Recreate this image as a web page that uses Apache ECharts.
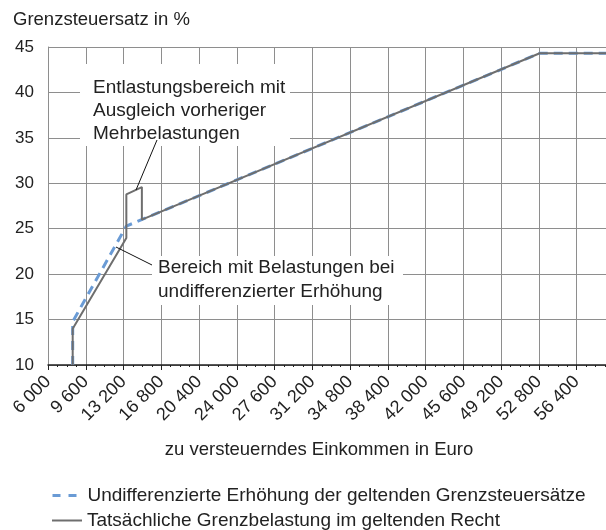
<!DOCTYPE html>
<html>
<head>
<meta charset="utf-8">
<script src="https://cdn.jsdelivr.net/npm/echarts@6/dist/echarts.min.js"></script>
<style>
  html, body { margin: 0; padding: 0; background: #fff; }
  #chart { width: 606px; height: 530px; }
</style>
</head>
<body>
<div id="chart"></div>
<script>
// Werte
var seriesNames = [
    'Undifferenzierte Erhöhung der geltenden Grenzsteuersätze',
    'Tatsächliche Grenzbelastung im geltenden Recht'
];
var incomeDashed = [8354, 8354, 13469, 52881, 59200];
var rateDashed   = [10, 14.77, 25.29, 44.31, 44.31];
var incomeSolid  = [8354, 8354, 13469, 13469, 14950, 14950, 52881, 59200];
var rateSolid    = [10, 14, 23.97, 28.77, 29.58, 26.0, 44.31, 44.31];
var xMin = 6000, xMax = 59200, xStep = 3600;
var yMin = 10, yMax = 45, yStep = 5;

var font = '"Liberation Sans", Arial, Helvetica, sans-serif';
var textColor = '#222';
var gridColor = '#8e8e8e';
var blue = '#6a9bd5';
var grey = '#6e6e6e';

function pairs(xs, ys) {
    return xs.map(function (x, i) { return [x, ys[i]]; });
}

//Tausender mit Leerzeichen
function fmtThousands(v) {
    if ((v - xMin) % xStep !== 0) return '';
    return String(v).replace(/\B(?=(\d{3})+(?!\d))/g, ' ');
}

//eine Legende je Zeile
function legendRow(item, top) {
    return {
        orient: 'vertical',
        left: 46,
        top: top,
        itemWidth: 30,
        itemHeight: 20,
        itemStyle: {opacity: 0},
        textStyle: {fontSize: 19, color: textColor, fontFamily: font},
        data: [item]
    };
}

var myChart = echarts.init(document.getElementById('chart'), null, {renderer: 'canvas'});

myChart.setOption({
    animation: false,
    textStyle: {fontFamily: font},
    grid: {left: 48, top: 47, right: 0, bottom: 165},
    legend: [
        legendRow({name: seriesNames[0], lineStyle: {type: [8, 8], width: 3, color: blue}}, 481),
        legendRow({name: seriesNames[1]}, 506)
    ],
    xAxis: {
        type: 'value',
        min: xMin,
        max: xMax,
        interval: xStep,
        axisLine: {show: true, lineStyle: {color: '#222', width: 1.5}},
        axisTick: {show: true, length: 5, lineStyle: {color: '#222'}},
        minorTick: {show: true, splitNumber: 4, length: 2, lineStyle: {color: '#222'}},
        splitLine: {show: true, lineStyle: {color: gridColor, width: 1}},
        axisLabel: {
            rotate: 45,
            margin: 14,
            fontSize: 18,
            color: textColor,
            fontFamily: font,
            showMaxLabel: false,
            formatter: fmtThousands
        }
    },
    yAxis: {
        type: 'value',
        min: yMin,
        max: yMax,
        interval: yStep,
        axisLine: {show: true, lineStyle: {color: gridColor, width: 1}},
        axisTick: {show: false},
        splitLine: {show: true, lineStyle: {color: gridColor, width: 1}},
        axisLabel: {margin: 14, fontSize: 17, color: textColor, fontFamily: font}
    },
    series: [
        {
            name: seriesNames[0],
            type: 'line',
            symbol: 'none',
            z: 2,
            lineStyle: {color: blue, width: 3, type: [9, 6]},
            itemStyle: {color: blue},
            data: pairs(incomeDashed, rateDashed)
        },
        {
            name: seriesNames[1],
            type: 'line',
            symbol: 'none',
            z: 3,
            lineStyle: {color: grey, width: 2},
            itemStyle: {color: grey},
            data: pairs(incomeSolid, rateSolid)
        }
    ],
    graphic: [
        {
            type: 'text', left: 13, top: 10, z: 5,
            style: {text: 'Grenzsteuersatz in %', fontSize: 18.5, fontFamily: font, fill: textColor}
        },
        {
            type: 'text', x: 319, y: 450, z: 5,
            style: {text: 'zu versteuerndes Einkommen in Euro', fontSize: 18.5, fontFamily: font,
                fill: textColor, align: 'center', verticalAlign: 'middle'}
        },
        //Annotation oben
        {
            type: 'rect', z: 1,
            shape: {x: 80, y: 64, width: 210, height: 82},
            style: {fill: '#fff'}
        },
        {
            type: 'text', x: 93, y: 76, z: 5,
            style: {text: 'Entlastungsbereich mit\nAusgleich vorheriger\nMehrbelastungen',
                fontSize: 19, lineHeight: 23, fontFamily: font, fill: textColor}
        },
        {
            type: 'line', z: 5,
            shape: {x1: 157, y1: 140, x2: 136, y2: 190},
            style: {stroke: '#111', lineWidth: 1}
        },
        //Annotation unten
        {
            type: 'rect', z: 1,
            shape: {x: 152, y: 256, width: 251, height: 49},
            style: {fill: '#fff'}
        },
        {
            type: 'text', x: 158, y: 256, z: 5,
            style: {text: 'Bereich mit Belastungen bei\nundifferenzierter Erhöhung',
                fontSize: 19, lineHeight: 24, fontFamily: font, fill: textColor}
        },
        {
            type: 'line', z: 5,
            shape: {x1: 116, y1: 247, x2: 152, y2: 265},
            style: {stroke: '#111', lineWidth: 1}
        }
    ]
});
</script>
</body>
</html>
